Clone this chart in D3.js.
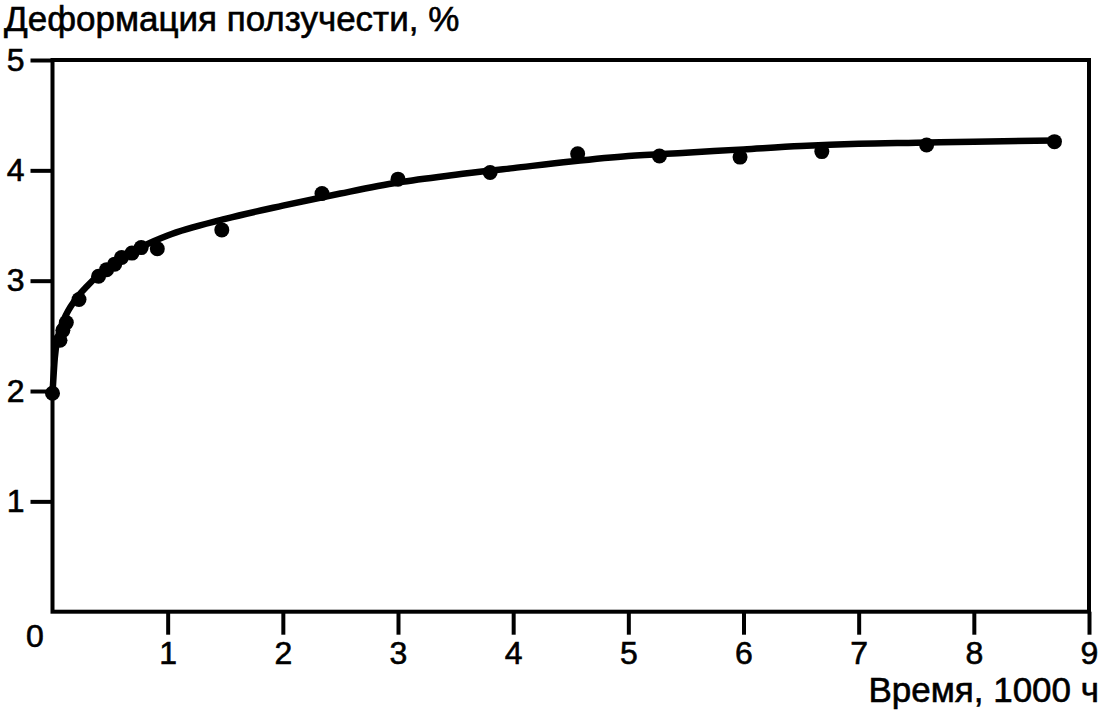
<!DOCTYPE html>
<html>
<head>
<meta charset="utf-8">
<script src="https://cdn.jsdelivr.net/npm/d3@7"></script>
<style>
  body { margin: 0; background: #fff; }
</style>
</head>
<body>
<div id="chart"></div>
<script>
// measured points: time in 1000 h, creep strain in %
var pointTime = [0, 0.065, 0.09, 0.12, 0.23, 0.40, 0.47, 0.54, 0.60, 0.69, 0.77, 0.91,
                 1.47, 2.34, 3.00, 3.80, 4.56, 5.27, 5.97, 6.68, 7.59, 8.70];
var pointStrain = [1.98, 2.46, 2.55, 2.62, 2.83, 3.04, 3.10, 3.15, 3.21, 3.25, 3.30, 3.29,
                   3.46, 3.79, 3.92, 3.98, 4.15, 4.13, 4.12, 4.17, 4.23, 4.26];

// fitted creep curve
var curveTime = [0, 0.02, 0.05, 0.1, 0.2, 0.3, 0.4, 0.5, 0.6, 0.8, 1.0, 1.5, 2.0, 2.5,
                 3.0, 3.5, 4.0, 4.5, 5.0, 5.5, 6.0, 6.5, 7.0, 7.5, 8.0, 8.7];
var curveStrain = [1.98, 2.3, 2.5, 2.65, 2.83, 2.95, 3.05, 3.13, 3.2, 3.32, 3.41, 3.56, 3.68, 3.79,
                   3.89, 3.96, 4.02, 4.08, 4.13, 4.16, 4.19, 4.22, 4.24, 4.25, 4.26, 4.27];

var xTicks = [1, 2, 3, 4, 5, 6, 7, 8, 9];
var yTicks = [1, 2, 3, 4, 5];

var width = 1103, height = 713;

var svg = d3.select('#chart').append('svg')
    .attr('width', width)
    .attr('height', height)
    .style('font-family', '"Liberation Sans", Arial, sans-serif');

var x = d3.scaleLinear().domain([0, 9]).range([52.5, 1089]);
var y = d3.scaleLinear().domain([0, 5]).range([611.7, 60]);

// axes
var xAxis = svg.append('g')
    .attr('transform', 'translate(0,' + y(0) + ')')
    .call(d3.axisBottom(x).tickValues(xTicks).tickSize(23).tickPadding(7).tickSizeOuter(0).tickFormat(d3.format('d')));

var yAxis = svg.append('g')
    .attr('transform', 'translate(' + x(0) + ',0)')
    .call(d3.axisLeft(y).tickValues(yTicks).tickSize(22).tickPadding(6).tickSizeOuter(0).tickFormat(d3.format('d')));

[xAxis, yAxis].forEach(function(a) {
  a.select('.domain').remove();
  a.selectAll('line').attr('stroke', '#000').attr('stroke-width', 4);
  a.selectAll('text').attr('fill', '#000').attr('font-size', '32px')
      .attr('stroke', '#000').attr('stroke-width', 0.6);
});

// plot frame
svg.append('rect')
    .attr('x', x(0))
    .attr('y', y(5))
    .attr('width', x(9) - x(0))
    .attr('height', y(0) - y(5))
    .attr('fill', 'none')
    .attr('stroke', '#000')
    .attr('stroke-width', 4);

svg.append('text')
    .attr('x', 35)
    .attr('y', 647)
    .attr('text-anchor', 'middle')
    .attr('font-size', '32px')
    .attr('stroke', '#000')
    .attr('stroke-width', 0.6)
    .text('0');

// titles
svg.append('text')
    .attr('x', 4)
    .attr('y', 31)
    .attr('font-size', '35px')
    .attr('stroke', '#000')
    .attr('stroke-width', 0.6)
    .text('Деформация ползучести, %');

svg.append('text')
    .attr('x', 1099)
    .attr('y', 702)
    .attr('text-anchor', 'end')
    .attr('font-size', '35px')
    .attr('stroke', '#000')
    .attr('stroke-width', 0.6)
    .text('Время, 1000 ч');

// curve
var line = d3.line()
    .x(function(d, i) { return x(curveTime[i]); })
    .y(function(d) { return y(d); })
    .curve(d3.curveMonotoneX);

svg.append('path')
    .attr('d', line(curveStrain))
    .attr('fill', 'none')
    .attr('stroke', '#000')
    .attr('stroke-width', 6.5)
    .attr('stroke-linecap', 'round');

// points
svg.append('g').selectAll('circle')
    .data(pointStrain)
    .join('circle')
    .attr('cx', function(d, i) { return x(pointTime[i]); })
    .attr('cy', function(d) { return y(d); })
    .attr('r', 7.5)
    .attr('fill', '#000');
</script>
</body>
</html>
